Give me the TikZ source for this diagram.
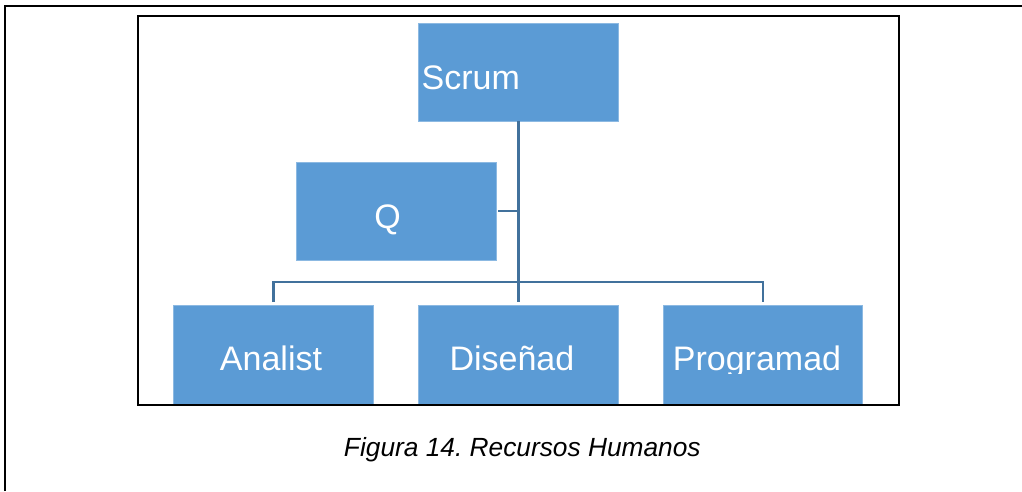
\documentclass[tikz,border=0pt]{standalone}
\usepackage{fontspec}
\setmainfont{Liberation Sans}
\definecolor{boxblue}{RGB}{91,155,213}
\definecolor{connblue}{RGB}{65,113,156}
\frenchspacing
\begin{document}
\begin{tikzpicture}[x=1pt,y=-1pt,
  box/.style={fill=boxblue, draw=boxblue!70!white, line width=0.6pt, minimum width=200pt, inner sep=0pt, outer sep=0pt},
  lbl/.style={text=white, font=\fontsize{34}{40}\selectfont, inner sep=0pt},
  conn/.style={draw=connblue, line width=2.8pt},
  frame/.style={draw=black, line width=2pt}]
\useasboundingbox (0,0) rectangle (1022,491);
% outer frame (only left and top visible)
\draw[frame] (5,491) -- (5,6) -- (1022,6);
% boxes
\node[box, minimum height=98pt] (scrum) at (518.3,72.2) {};
\node[box, minimum height=98pt] (q) at (396,210.9) {};
\node[box, minimum height=99pt] (analist) at (273.3,354.5) {};
\node[box, minimum height=99pt] (disenad) at (518.3,354.5) {};
\node[box, minimum height=99pt, minimum width=199.4pt] (programad) at (763,354.5) {};
% labels
\node[lbl, anchor=base west] (scrumt) at (421.5,89) {Scrum};
\node[lbl, anchor=base] (qt) at (387.5,228) {Q};
\begin{scope}
\clip (170,300) rectangle (870,373.5);
\node[lbl, anchor=base] (analistt) at (271,370) {Analist};
\node[lbl, anchor=base west] (disenadt) at (449.3,370) {Diseñad};
\node[lbl, anchor=base west] (programadt) at (672.7,370) {Programad};
\end{scope}
% connectors
\coordinate (bar) at (518.3,282);
\draw[conn] (scrum.south) -- (bar);
\draw[conn, shorten <=3pt, shorten >=3pt, line cap=butt] (analist.north) -- (analist.north |- bar) -- (programad.north |- bar) -- (programad.north);
\draw[conn, shorten >=3pt] (bar) -- (disenad.north);
\draw[conn, shorten <=2pt] (q.east) -- (q.east -| scrum.south);
% inner frame
\draw[frame] (137.5,16) rectangle (898.5,404.5);
% caption
\node[font=\fontsize{26.3}{31}\selectfont\itshape, anchor=base, inner sep=0pt] (caption) at (522.3,456) {Figura 14. Recursos Humanos};
\end{tikzpicture}
\end{document}
